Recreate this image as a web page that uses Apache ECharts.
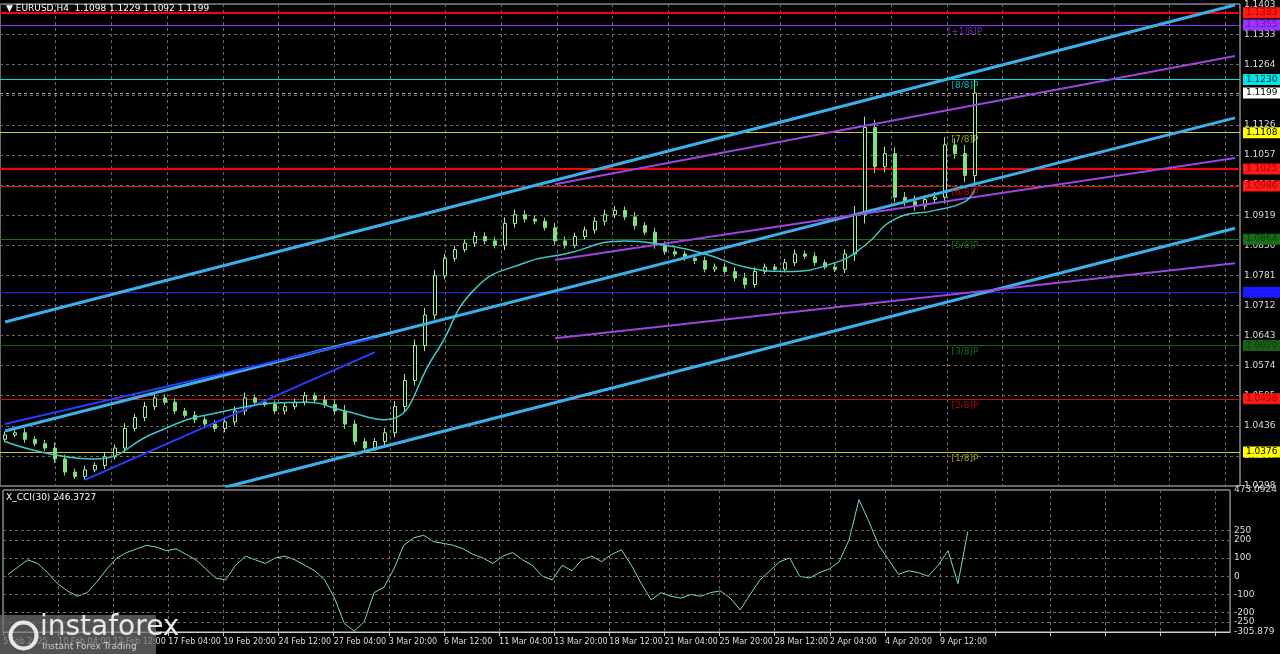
<!DOCTYPE html>
<html>
<head>
<meta charset="utf-8">
<script src="https://cdnjs.cloudflare.com/ajax/libs/echarts/6.0.0/echarts.min.js"></script>
<style>html,body{margin:0;padding:0;background:#000;}</style>
</head>
<body>
<div id="main" style="width:1280px;height:654px;"></div>
<script type="text/javascript">
// candle closes, one candle every 10px
var closes = [1.0415,1.0420,1.0405,1.0395,1.0385,1.0360,1.0330,1.0320,1.0335,1.0345,
  1.0365,1.0385,1.0430,1.0455,1.0480,1.0500,1.0490,1.0470,1.0460,1.0450,
  1.0440,1.0430,1.0445,1.0470,1.0500,1.0490,1.0485,1.0470,1.0480,1.0490,
  1.0505,1.0495,1.0485,1.0470,1.0440,1.0400,1.0385,1.0400,1.0420,1.0480,
  1.0540,1.0620,1.0690,1.0780,1.0820,1.0840,1.0855,1.0870,1.0860,1.0850,
  1.0900,1.0920,1.0910,1.0905,1.0890,1.0860,1.0850,1.0870,1.0885,1.0905,
  1.0920,1.0930,1.0915,1.0895,1.0880,1.0850,1.0835,1.0830,1.0820,1.0815,
  1.0795,1.0800,1.0790,1.0775,1.0760,1.0790,1.0800,1.0795,1.0810,1.0830,
  1.0825,1.0810,1.0800,1.0795,1.0830,1.0920,1.1120,1.1030,1.1060,1.0960,
  1.0950,1.0940,1.0955,1.0960,1.1080,1.1060,1.1010,1.1199];
// wick size in pips
var wicks = [8,6,10,7,9,12,10,8,9,7,10,8,12,9,11,10,8,9,7,10,
  8,9,11,10,12,8,7,9,10,8,9,7,10,12,14,10,9,8,11,13,
  15,14,16,13,10,9,8,11,10,9,14,12,10,9,8,11,10,9,8,10,
  12,10,9,11,8,10,9,8,7,10,9,8,7,10,12,9,8,7,9,10,
  8,9,7,8,11,20,25,18,16,15,12,14,10,12,18,15,20,30];
var cci = [10,50,90,70,20,-40,-80,-110,-90,-30,
  40,100,130,150,170,160,140,150,120,90,
  40,-10,-20,60,110,90,70,100,110,90,
  60,30,-20,-120,-260,-300,-250,-90,-60,40,
  170,210,225,190,180,170,150,120,100,70,
  110,130,90,60,0,-20,60,30,90,110,
  80,120,145,60,-40,-130,-90,-110,-120,-100,
  -110,-90,-80,-120,-185,-100,-20,30,80,100,
  0,-10,20,40,80,200,420,300,170,90,
  10,30,20,0,60,140,-40,246];
// moving average [candle index, price]
var ma = [[0,1.0400],[9,1.0360],[15,1.0420],[20,1.0460],[30,1.0490],[34,1.0470],[38,1.0450],
  [43,1.0600],[47,1.0750],[52,1.0810],[56,1.0830],[62,1.0860],[66,1.0850],[70,1.0830],
  [74,1.0800],[78,1.0790],[83,1.0810],[86,1.0850],[89,1.0910],[93,1.0930],[96,1.0950],[97,1.0980]];
// trend lines [[idx,price],[idx,price]]
var cyanLines = [[[0,1.0674],[123,1.1401]],[[0,1.0424],[123,1.1142]],[[22,1.0295],[123,1.0889]]];
var purpleLines = [[[55,1.0990],[123,1.1284]],[[55,1.0816],[123,1.1050]],[[55,1.0637],[123,1.0809]]];
var blueLines = [[[0,1.0440],[37,1.0637]],[[8,1.0312],[37,1.0605]]];
// horizontal levels
var levels = [1.1383,1.1355,1.1230,1.1199,1.1108,1.1025,1.0986,1.0864,1.0742,1.0620,1.0498,1.0376];
var levelColors = ['#ff0000','#9933ff','#00e5e5','#aaaaaa','#cccc33','#ff0000','#e01010','#1a6e1a','#2020ff','#1a5e1a','#cc1010','#cccc33'];
var levelBoxes = ['#ff1a1a','#9933ff','#00e5e5','#ffffff','#ffff00','#ff1a1a','#ff1a1a','#1a6e1a','#1a1aff','#1a5e1a','#ff1a1a','#ffff00'];
var levelText = ['#aa0000','#6a1aaa','#003333','#000000','#000000','#aa0000','#aa0000','#0b3b0b','#1a1aff','#0b3b0b','#aa0000','#000000'];
var murrey = [['[+1/8]P',1.1355],['[8/8]P',1.1230],['[7/8]P',1.1108],['[6/8]P',1.0986],['[5/8]P',1.0864],['[3/8]P',1.0620],['[2/8]P',1.0498],['[1/8]P',1.0376]];
var murreyColors = ['#9933ff','#00e5e5','#cccc33','#e01010','#1a8e1a','#1a8e1a','#cc1010','#cccc33'];
var dateLabels = ['5 Feb 2025','10 Feb 04:00','12 Feb 12:00','17 Feb 04:00','19 Feb 20:00','24 Feb 12:00','27 Feb 04:00',
  '3 Mar 20:00','6 Mar 12:00','11 Mar 04:00','13 Mar 20:00','18 Mar 12:00','21 Mar 04:00','25 Mar 20:00',
  '28 Mar 12:00','2 Apr 04:00','4 Apr 20:00','9 Apr 12:00'];
var cciTicks = [250,200,100,0,-100,-200,-250];

var nCat = 124;
var cats = [];
for (var i = 0; i < nCat; i++) cats.push(i);
var candles = [];
for (var i = 0; i < closes.length; i++) {
  var o = i === 0 ? 1.0405 : closes[i - 1];
  var c = closes[i];
  var w = wicks[i] * 0.0001;
  candles.push([o, c, Math.min(o, c) - w * 0.8, Math.max(o, c) + w]);
}

var chart = echarts.init(document.getElementById('main'));
var gridLine = {show: true, lineStyle: {color: '#6a6a6a', type: [3, 3], width: 1}};
var series = [];
series.push({type: 'candlestick', xAxisIndex: 0, yAxisIndex: 0, data: candles, barWidth: 4, z: 3,
  itemStyle: {color: '#000', color0: '#7ee07e', borderColor: '#9af59a', borderColor0: '#7ee07e', borderWidth: 1}});
series.push({type: 'line', xAxisIndex: 0, yAxisIndex: 0, data: ma, smooth: true, symbol: 'none',
  lineStyle: {color: '#3cc8c8', width: 1.5}, z: 5,
  markLine: {symbol: 'none', silent: true, animation: false, precision: 4, z: 2,
    data: levels.map(function (v, k) {
      return {yAxis: v, lineStyle: {color: levelColors[k], width: (k === 0 || k === 5) ? 2 : 1, type: k === 3 ? [3, 3] : 'solid'},
        label: {show: true, position: 'end', distance: 3, formatter: v.toFixed(4), color: levelText[k], backgroundColor: levelBoxes[k],
          padding: [1, 3], fontSize: 9, fontFamily: 'DejaVu Sans'}};
    })}});
function addLines(list, color, width) {
  list.forEach(function (l) {
    series.push({type: 'line', xAxisIndex: 0, yAxisIndex: 0, data: l, symbol: 'none', lineStyle: {color: color, width: width}, z: 4});
  });
}
addLines(cyanLines, '#3bb0e8', 3);
addLines(purpleLines, '#9b45e0', 2);
addLines(blueLines, '#2a3cff', 2);
series.push({type: 'scatter', xAxisIndex: 0, yAxisIndex: 0, symbolSize: 0, z: 6,
  data: murrey.map(function (m, k) {
    return {value: [96, m[1]], label: {show: true, formatter: m[0], position: 'bottom', distance: 2, color: murreyColors[k], fontSize: 9}};
  })});
series.push({type: 'line', xAxisIndex: 2, yAxisIndex: 1, data: cci, symbol: 'none', lineStyle: {color: '#7ad6d6', width: 1},
  markLine: {symbol: 'none', silent: true, animation: false, precision: 0,
    data: cciTicks.map(function (v) {
      return {yAxis: v, lineStyle: {color: '#6a6a6a', type: [3, 3], width: 1},
        label: {show: true, position: 'end', distance: 4, formatter: String(v), color: '#ddd', fontSize: 9}};
    })}});

chart.setOption({
  backgroundColor: '#000',
  animation: false,
  textStyle: {fontFamily: 'DejaVu Sans'},
  grid: [{left: 0, right: 40, top: 4, height: 482, show: true, borderColor: '#cfcfcf', borderWidth: 1},
         {left: 0, right: 40, top: 490, height: 142, show: true, borderColor: '#cfcfcf', borderWidth: 1}],
  xAxis: [
    {type: 'category', gridIndex: 0, data: cats, show: false},
    {type: 'value', gridIndex: 0, min: 0, max: 124, interval: 5.57, axisLabel: {show: false}, axisTick: {show: false}, axisLine: {show: false}, splitLine: gridLine},
    {type: 'category', gridIndex: 1, data: cats, show: false},
    {type: 'value', gridIndex: 1, min: 0, max: 124, interval: 5.57, position: 'bottom', splitLine: gridLine,
      axisLine: {show: true, lineStyle: {color: '#cfcfcf'}}, axisTick: {show: true, length: 4, lineStyle: {color: '#cfcfcf'}},
      axisLabel: {color: '#ddd', fontSize: 8, align: 'left', margin: 6, showMaxLabel: false,
        formatter: function (v) { return dateLabels[Math.round(v / 5.57)] || ''; }}}
  ],
  yAxis: [
    {type: 'value', gridIndex: 0, position: 'right', min: 1.0298, max: 1.1403, interval: 0.0069,
      splitLine: gridLine, axisLine: {show: false}, axisTick: {show: false},
      axisLabel: {color: '#ddd', fontSize: 9, margin: 4, formatter: function (v) { return v > 1.1400 ? '1.1403' : v.toFixed(4); }}},
    {type: 'value', gridIndex: 1, position: 'right', min: -305.879, max: 473.0924, splitLine: {show: false},
      axisLine: {show: false}, axisTick: {show: false},
      axisLabel: {show: true, showMinLabel: true, showMaxLabel: true, color: '#ddd', fontSize: 9, margin: 4,
        formatter: function (v) { return v === 473.0924 ? '473.0924' : (v === -305.879 ? '-305.879' : ''); }}}
  ],
  series: series,
  graphic: [
    {type: 'text', left: 6, top: 4, z: 10, style: {text: '▼ EURUSD,H4  1.1098 1.1229 1.1092 1.1199', fill: '#fff', fontSize: 9, fontFamily: 'DejaVu Sans'}},
    {type: 'text', left: 6, top: 493, z: 10, style: {text: 'X_CCI(30) 246.3727', fill: '#fff', fontSize: 9, fontFamily: 'DejaVu Sans'}},
    {type: 'rect', left: 0, top: 615, z: 10, shape: {width: 156, height: 39}, style: {fill: 'rgba(110,110,110,0.75)'}},
    {type: 'text', left: 40, top: 614, z: 11, style: {text: 'instaforex', fill: '#e8e8e8', fontSize: 28, fontFamily: 'DejaVu Sans'}},
    {type: 'text', left: 42, top: 642, z: 11, style: {text: 'Instant Forex Trading', fill: '#d0d0d0', fontSize: 9, fontFamily: 'DejaVu Sans'}},
    {type: 'circle', left: 8, top: 620, z: 11, shape: {r: 13}, style: {fill: 'none', stroke: '#e8e8e8', lineWidth: 4}}
  ]
});
</script>
</body>
</html>
